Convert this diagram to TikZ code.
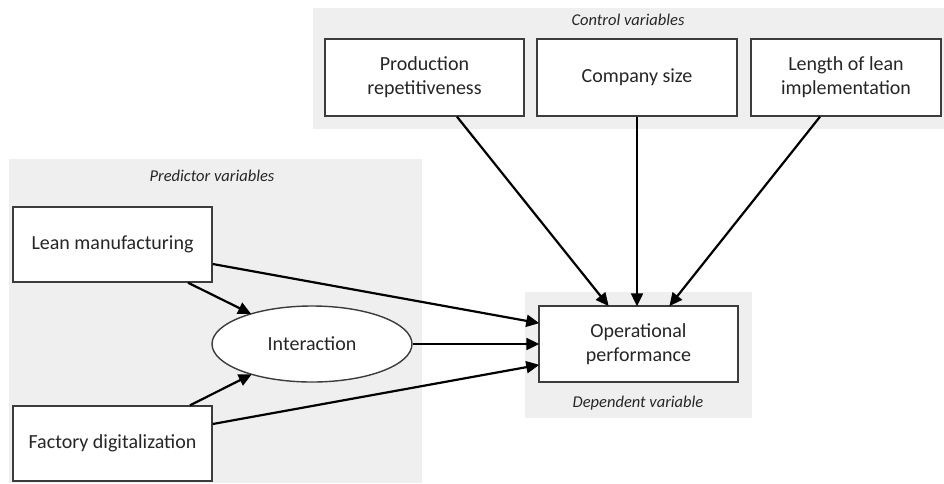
\documentclass[tikz,border=0pt]{standalone}
\usepackage{fontspec}
\setmainfont{Carlito}
\usetikzlibrary{arrows.meta,shapes.geometric}
\definecolor{panelgray}{RGB}{239,239,239}
\definecolor{txtgray}{RGB}{38,38,38}
\definecolor{bordergray}{RGB}{60,60,60}
\tikzset{
  panel/.style={fill=panelgray, draw=none},
  varbox/.style={draw=bordergray, line width=1.4pt, fill=white, rectangle, align=center,
    inner sep=0pt, text=txtgray, font=\fontsize{20}{24}\selectfont},
  varell/.style={draw=bordergray, line width=1.4pt, fill=white, ellipse, align=center,
    inner sep=0pt, text=txtgray, font=\fontsize{20}{24}\selectfont},
  grouplabel/.style={text=txtgray, font=\itshape\fontsize{16.5}{20}\selectfont, inner sep=0pt},
  link/.style={draw=black, line width=2.2pt, -{Triangle[length=13pt,width=12pt]}, shorten >=-1pt}
}
\begin{document}
\begin{tikzpicture}[x=1pt,y=-1pt]
\useasboundingbox (0,0) rectangle (944,483);
% panels
\fill[panel] (313,8) rectangle (944,129);
\fill[panel] (9,159) rectangle (422,483);
\fill[panel] (525,292) rectangle (752,418);
% labels
\node[grouplabel] (lblctrl) at (628,20) {Control variables};
\node[grouplabel] (lblpred) at (212,176) {Predictor variables};
\node[grouplabel] (lbldep) at (638,403) {Dependent variable};
% nodes
\node[varbox, minimum width=199pt, minimum height=77pt] (prod) at (424.5,77.5) {Production\\repetitiveness};
\node[varbox, minimum width=200pt, minimum height=77pt] (comp) at (637,77.5) {Company size};
\node[varbox, minimum width=190pt, minimum height=77pt] (len) at (846,77.5) {Length of lean\\implementation};
\node[varbox, minimum width=199pt, minimum height=75pt] (lean) at (112.5,244.5) {Lean manufacturing};
\node[varbox, minimum width=199pt, minimum height=75pt] (fact) at (112.5,443.5) {Factory digitalization};
\node[varell, minimum width=200pt, minimum height=76pt] (inter) at (312,344) {Interaction};
\node[varbox, minimum width=199pt, minimum height=76pt] (op) at (638.5,344) {Operational\\performance};
% connectors
\draw[link] ([yshift=-19.5pt]lean.east) -- ([yshift=21pt]op.west);
\draw[link] (inter.east) -- (op.west);
\draw[link] ([yshift=19.5pt]fact.east) -- ([yshift=-21pt]op.west);
\draw[link] ([xshift=75.5pt]lean.south) -- (inter);
\draw[link] ([xshift=77.5pt]fact.north) -- (inter);
\draw[link] ([xshift=32.5pt]prod.south) -- ([xshift=-30.5pt]op.north);
\draw[link] (comp.south) -- (comp.south |- op.north);
\draw[link] ([xshift=-26pt]len.south) -- ([xshift=31.5pt]op.north);
\end{tikzpicture}
\end{document}
